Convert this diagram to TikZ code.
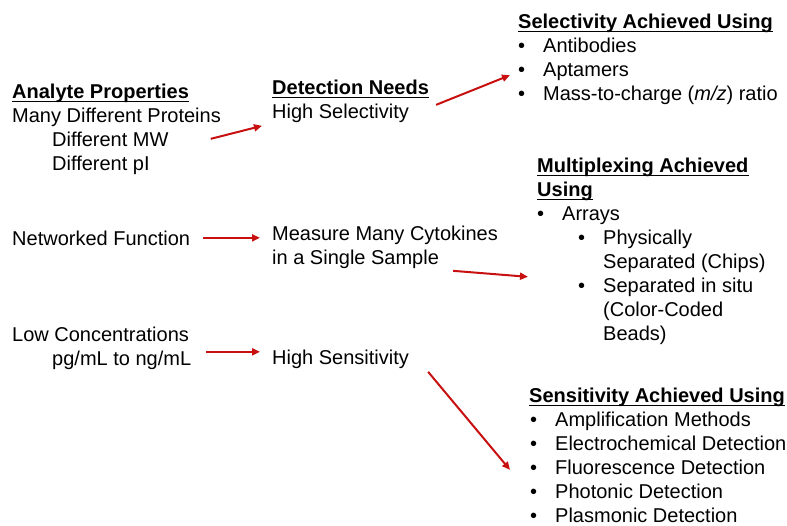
\documentclass[tikz,border=0pt]{standalone}
\usepackage{fontspec}
\setmainfont{Liberation Sans}
\usetikzlibrary{arrows.meta, calc}
\definecolor{arrred}{RGB}{200,16,16}
\newcommand{\bul}{\llap{\textbullet\hspace{18pt}}}

\begin{document}
\begin{tikzpicture}[
    x=1pt, y=-1pt,
    txt/.style={anchor=base west, inner sep=0pt, font=\fontsize{20}{24}\selectfont},
    head/.style={txt, font=\fontsize{20}{24}\selectfont\bfseries},
    uline/.style={line width=1.6pt},
    arr/.style={draw=arrred, line width=2pt, -{Triangle[length=8pt,width=7pt]}},
  ]
  \useasboundingbox (0,0) rectangle (787,525);
  % left column
  \node[head] (ap) at (12,98) {Analyte Properties\ };
  \node[txt] (mdp) at (12,122) {Many Different Proteins};
  \node[txt] (mw) at (52,146) {Different MW};
  \node[txt] (pi) at (52,170) {Different pI};
  \node[txt] (nf) at (12,245) {Networked Function};
  \node[txt] (lc) at (12,341) {Low Concentrations};
  \node[txt] (pg) at (52,365) {pg/mL to ng/mL};
  % middle column
  \node[head] (dn) at (272,94) {Detection Needs};
  \node[txt] (hsel) at (272,118) {High Selectivity};
  \node[txt] (mm) at (272,240) {Measure Many Cytokines};
  \node[txt] (ss) at (272,264) {in a Single Sample};
  \node[txt] (hsen) at (272,364) {High Sensitivity};
  % right column
  \node[head] (sel) at (518,28) {Selectivity Achieved Using\ };
  \node[txt] (ab) at (543,52) {\bul Antibodies};
  \node[txt] (apt) at (543,76) {\bul Aptamers};
  \node[txt] (mz) at (543,100) {\bul Mass-to-charge (\textit{m/z}) ratio};
  \node[head] (mux) at (537,172) {Multiplexing Achieved};
  \node[head] (muxb) at (537,196) {Using};
  \node[txt] (arrays) at (562,220) {\bul Arrays};
  \node[txt] (phys) at (603,244) {\bul Physically};
  \node[txt] (chips) at (603,268) {Separated (Chips)};
  \node[txt] (situ) at (603,292) {\bul Separated in situ};
  \node[txt] (ccb) at (603,316) {(Color-Coded};
  \node[txt] (beads) at (603,340) {Beads)};
  \node[head] (sen) at (529,402) {Sensitivity Achieved Using};
  \node[txt] (amp) at (555,426) {\bul Amplification Methods};
  \node[txt] (ec) at (555,450) {\bul Electrochemical Detection};
  \node[txt] (fl) at (555,474) {\bul Fluorescence Detection};
  \node[txt] (ph) at (555,498) {\bul Photonic Detection};
  \node[txt] (pl) at (555,522) {\bul Plasmonic Detection};
  % underlines
  \foreach \n in {ap,dn,sel,mux,muxb,sen}
    \draw[uline] ([yshift=-3.5pt]\n.base west) -- ([yshift=-3.5pt]\n.base east);
  % arrows
  \draw[arr] ([xshift=42pt]mw.east) -- ([xshift=-10pt,yshift=-13pt]hsel.west);
  \draw[arr] ([xshift=27pt,yshift=8pt]hsel.east) -- ([xshift=-33pt,yshift=-4pt]apt.west);
  \draw[arr, shorten <=13pt, shorten >=12pt] (nf.east) -- (nf.east -| mm.west);
  \draw[arr] ([xshift=14pt,yshift=-12pt]ss.east) -- ([xshift=-75pt,yshift=-14pt]chips.west);
  \draw[arr] ([xshift=15pt,yshift=8pt]pg.east) -- ([xshift=-12pt,yshift=7pt]hsen.west);
  \draw[arr] ([xshift=19pt,yshift=-13pt]hsen.east) -- ([xshift=-45pt,yshift=-3pt]fl.west);
\end{tikzpicture}
\end{document}
